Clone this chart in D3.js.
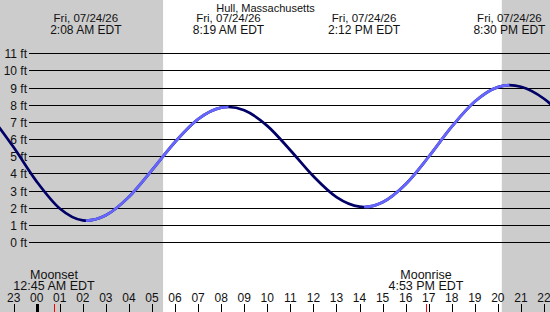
<!DOCTYPE html>
<html>
<head>
<meta charset="utf-8">
<script src="https://cdn.jsdelivr.net/npm/d3@7"></script>
<style>
  body { margin: 0; background: #fff; }
  svg { display: block; font-family: "Liberation Sans", Arial, sans-serif; }
  text { fill: #111; }
</style>
</head>
<body>
<svg id="s" width="550" height="312"></svg>
<script>
var title = "Hull, Massachusetts";

// hours after midnight, Fri 07/24/26
var tideHours = [-2, -1, 0, 1, 2, 2.133, 3, 4, 5, 6, 7, 8, 8.317, 9, 10, 11, 12, 13, 14, 14.2, 15, 16, 17, 18, 19, 20, 20.5, 21, 22, 23];
var tideFeet  = [7.36, 5.52, 3.52, 1.95, 1.26, 1.25, 1.56, 2.63, 4.19, 5.83, 7.16, 7.83, 7.87, 7.68, 6.77, 5.35, 3.83, 2.62, 2.06, 2.04, 2.32, 3.37, 4.97, 6.72, 8.19, 9.03, 9.14, 9.05, 8.35, 7.10];

var eventHours = [2.133, 8.317, 14.2, 20.5];
var eventDates = ["Fri, 07/24/26", "Fri, 07/24/26", "Fri, 07/24/26", "Fri, 07/24/26"];
var eventTimes = ["2:08 AM EDT", "8:19 AM EDT", "2:12 PM EDT", "8:30 PM EDT"];

var sunHours = [5.48, 20.17]; // sunrise, sunset
var moonHours = [0.75, 16.883];
var moonNames = ["Moonset", "Moonrise"];
var moonTimes = ["12:45 AM EDT", "4:53 PM EDT"];

var hourTicks = d3.range(-1, 23);
var feetTicks = d3.range(0, 12);

var W = 550, H = 312;
var svg = d3.select("#s");

var x = d3.scaleLinear().domain([0, 22]).range([36.7, 544]);
var y = d3.scaleLinear().domain([0, 11]).range([242, 53.3]);

// night shading
svg.append("rect").attr("x", 0).attr("y", 0).attr("width", x(sunHours[0])).attr("height", H).attr("fill", "#cccccc");
svg.append("rect").attr("x", x(sunHours[1])).attr("y", 0).attr("width", W - x(sunHours[1])).attr("height", H).attr("fill", "#cccccc");

// grid lines + foot labels
var grid = svg.append("g");
grid.selectAll("line").data(feetTicks).enter().append("line")
  .attr("x1", 29).attr("x2", W)
  .attr("y1", function(d){ return Math.round(y(d)) + 0.5; })
  .attr("y2", function(d){ return Math.round(y(d)) + 0.5; })
  .attr("stroke", "#000").attr("stroke-width", 1);
grid.selectAll("text").data(feetTicks).enter().append("text")
  .attr("x", 27).attr("y", function(d){ return Math.round(y(d)) + 4.8; })
  .attr("text-anchor", "end").attr("font-size", "12px")
  .text(function(d){ return d + " ft"; });

// tide curve
var pts = tideHours.map(function(h, i){ return [h, tideFeet[i]]; });
var line = d3.line().x(function(d){ return x(d[0]); }).y(function(d){ return y(d[1]); }).curve(d3.curveMonotoneX);

var defs = svg.append("defs");
var clip = defs.append("clipPath").attr("id", "rising");
clip.append("rect").attr("x", x(eventHours[0])).attr("y", 0).attr("width", x(eventHours[1]) - x(eventHours[0])).attr("height", H);
clip.append("rect").attr("x", x(eventHours[2])).attr("y", 0).attr("width", x(eventHours[3]) - x(eventHours[2])).attr("height", H);

svg.append("path").datum(pts).attr("d", line)
  .attr("fill", "none").attr("stroke", "#000066").attr("stroke-width", 2.7);
svg.append("path").datum(pts).attr("d", line).attr("clip-path", "url(#rising)")
  .attr("fill", "none").attr("stroke", "#6666ff").attr("stroke-width", 2.7);

// title
svg.append("text").attr("x", 265.5).attr("y", 11.7).attr("text-anchor", "middle").attr("font-size", "11px").text(title);

// high / low labels
var ev = svg.append("g").selectAll("g").data(eventHours).enter().append("g");
ev.append("text").attr("x", function(d){ return x(d); }).attr("y", 22.3)
  .attr("text-anchor", "middle").attr("font-size", "11.5px")
  .text(function(d, i){ return eventDates[i]; });
ev.append("text").attr("x", function(d){ return x(d); }).attr("y", 33.6)
  .attr("text-anchor", "middle").attr("font-size", "12px")
  .text(function(d, i){ return eventTimes[i]; });

// moon labels
var mn = svg.append("g").selectAll("g").data(moonHours).enter().append("g");
mn.append("text").attr("x", function(d){ return x(d); }).attr("y", 278.5)
  .attr("text-anchor", "middle").attr("font-size", "12.5px")
  .text(function(d, i){ return moonNames[i]; });
mn.append("text").attr("x", function(d){ return x(d); }).attr("y", 290)
  .attr("text-anchor", "middle").attr("font-size", "12.5px")
  .text(function(d, i){ return moonTimes[i]; });

// hour axis
var ax = svg.append("g");
ax.selectAll("text").data(hourTicks).enter().append("text")
  .attr("x", function(d){ return x(d); }).attr("y", 301.5)
  .attr("text-anchor", "middle").attr("font-size", "12px")
  .text(function(d){ return d3.format("02d")((d + 24) % 24); });
ax.selectAll("line.t").data(hourTicks).enter().append("line")
  .attr("class", "t")
  .attr("x1", function(d){ return Math.round(x(d)) + 0.5; })
  .attr("x2", function(d){ return Math.round(x(d)) + 0.5; })
  .attr("y1", 304).attr("y2", H)
  .attr("stroke", "#000")
  .attr("stroke-width", function(d){ return d === 0 ? 3 : 1; });
ax.selectAll("line.m").data(moonHours).enter().append("line")
  .attr("class", "m")
  .attr("x1", function(d){ return Math.round(x(d)) + 0.5; })
  .attr("x2", function(d){ return Math.round(x(d)) + 0.5; })
  .attr("y1", 304).attr("y2", H)
  .attr("stroke", "#ff0000").attr("stroke-width", 1);
</script>
</body>
</html>
